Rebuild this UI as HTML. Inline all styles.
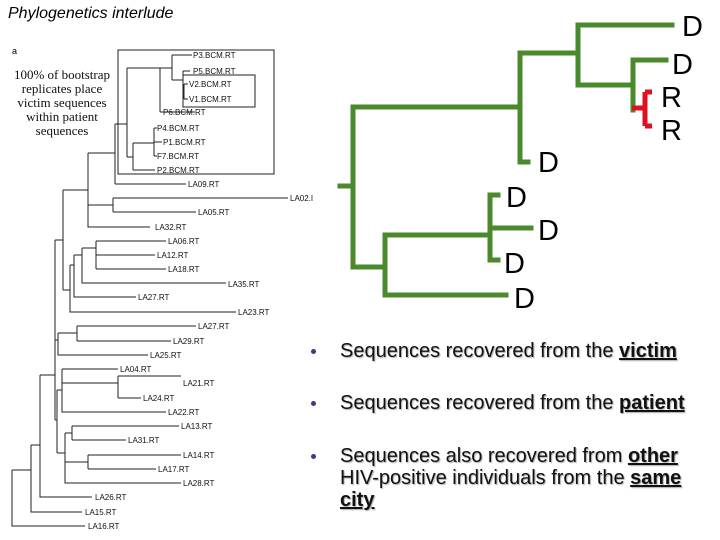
<!DOCTYPE html>
<html><head><meta charset="utf-8"><style>
body{margin:0;width:720px;height:540px;background:#fff;overflow:hidden;position:relative;font-family:"Liberation Sans",Arial,sans-serif}
.t{position:absolute;left:8px;top:5px;font-style:italic;font-size:16px;color:#000}
.b{position:absolute;left:340px;font-size:20px;line-height:22px;color:#111;text-shadow:1px 1px 1px #aaa;width:380px;white-space:nowrap}
.b b{text-decoration:underline}
.dot{position:absolute;left:311px;width:5px;height:5px;border-radius:50%;background:#3a3a8a}
</style></head><body>
<div class="t">Phylogenetics interlude</div>
<svg width="720" height="540" style="position:absolute;left:0;top:0">
<g stroke="#222" stroke-width="1" fill="none">
<rect x="118" y="50" width="156" height="124"/>
<rect x="183" y="75" width="72" height="32"/>
<path d="M12 470V526H85M12 470H31M31 445V512H82M31 445H40M40 375V497H92M40 375H55"/>
<path d="M55 240V420M55 240H63M63 190V290M63 190H88M88 153V227H150M88 205H113M113 198V212M113 198H288M113 212H196"/>
<path d="M88 153H115M115 124V184M115 184H186M115 124H127M127 68V157M127 68H160M160 68V112M160 112H195M160 68H172M172 55V80M172 55H192M172 80H183M183 71V92M183 71H190M183 92H184M184 84V99M184 84H188M184 99H188"/>
<path d="M127 157H133M133 143V170M133 170H155M133 143H154M154 128V156M154 128H157M154 142H162M154 156H157"/>
<path d="M63 290H70M70 265V312H236M70 265H74M74 255V297H136M74 255H82M82 248V283H226M82 248H96M96 241V269M96 241H166M96 255H155M96 269H166"/>
<path d="M55 340H58M58 333V355H148M58 333H77M77 326V341M77 326H196M77 341H171"/>
<path d="M55 420H57M57 390V453M57 390H62M62 369V412H166M62 369H118M62 383H118M118 376V398M118 376H181M118 398H141"/>
<path d="M57 453H65M65 433V483H181M65 433H72M72 426V440M72 426H179M72 440H126M65 462H88M88 455V469M88 455H181M88 469H156"/>
</g>
<g font-family="Liberation Sans,Arial,sans-serif" font-size="8" fill="#111">
<text x="193" y="58">P3.BCM.RT</text><text x="193" y="74">P5.BCM.RT</text>
<text x="189" y="87">V2.BCM.RT</text><text x="189" y="102">V1.BCM.RT</text>
<text x="163" y="115">P6.BCM.RT</text><text x="157" y="131">P4.BCM.RT</text>
<text x="163" y="145">P1.BCM.RT</text><text x="157" y="159">F7.BCM.RT</text>
<text x="157" y="173">P2.BCM.RT</text><text x="188" y="187">LA09.RT</text>
<text x="290" y="201">LA02.I</text><text x="198" y="215">LA05.RT</text>
<text x="155" y="230">LA32.RT</text><text x="168" y="244">LA06.RT</text>
<text x="157" y="258">LA12.RT</text><text x="168" y="272">LA18.RT</text>
<text x="228" y="287">LA35.RT</text><text x="138" y="300">LA27.RT</text>
<text x="238" y="315">LA23.RT</text><text x="198" y="329">LA27.RT</text>
<text x="173" y="344">LA29.RT</text><text x="150" y="358">LA25.RT</text>
<text x="120" y="372">LA04.RT</text><text x="183" y="386">LA21.RT</text>
<text x="143" y="401">LA24.RT</text><text x="168" y="415">LA22.RT</text>
<text x="181" y="429">LA13.RT</text><text x="128" y="443">LA31.RT</text>
<text x="183" y="458">LA14.RT</text><text x="158" y="472">LA17.RT</text>
<text x="183" y="486">LA28.RT</text><text x="95" y="500">LA26.RT</text>
<text x="85" y="515">LA15.RT</text><text x="88" y="529">LA16.RT</text>
</g>
<text x="12" y="54" font-family="Liberation Sans,Arial,sans-serif" font-size="9">a</text>
<g font-family="Liberation Serif,serif" font-size="13" text-anchor="middle" fill="#111">
<text x="62" y="79">100% of bootstrap</text><text x="62" y="93">replicates place</text>
<text x="62" y="107">victim sequences</text><text x="62" y="121">within patient</text>
<text x="62" y="135">sequences</text></g>
<g stroke="#4a8a2c" stroke-width="5" fill="none" stroke-linecap="square">
<path d="M340 186H353M353 107V267M353 107H520M520 53V162H528M520 53H578M578 25V85M578 25H672M578 85H633M633 60V110M633 60H666"/>
<path d="M353 267H385M385 235V295H506M385 235H490M490 195V260M490 195H498M490 228H531M490 260H498"/>
</g>
<path d="M632 108H645M645 92V126M645 92H652M645 126H652" stroke="#e01020" stroke-width="5" fill="none"/>
<g font-family="Liberation Sans,Arial,sans-serif" font-size="29" fill="#000">
<text x="682" y="36">D</text><text x="672" y="74">D</text>
<text x="661" y="107">R</text><text x="661" y="140">R</text>
<text x="538" y="172">D</text><text x="506" y="207">D</text>
<text x="538" y="240">D</text><text x="504" y="273">D</text>
<text x="514" y="308">D</text>
</g>
</svg>
<div class="dot" style="top:349px"></div>
<div class="b" style="top:340px">Sequences recovered from the <b>victim</b></div>
<div class="dot" style="top:401px"></div>
<div class="b" style="top:392px">Sequences recovered from the <b>patient</b></div>
<div class="dot" style="top:454px"></div>
<div class="b" style="top:445px">Sequences also recovered from <b>other</b><br>HIV-positive individuals from the <b>same</b><br><b>city</b></div>
</body></html>
